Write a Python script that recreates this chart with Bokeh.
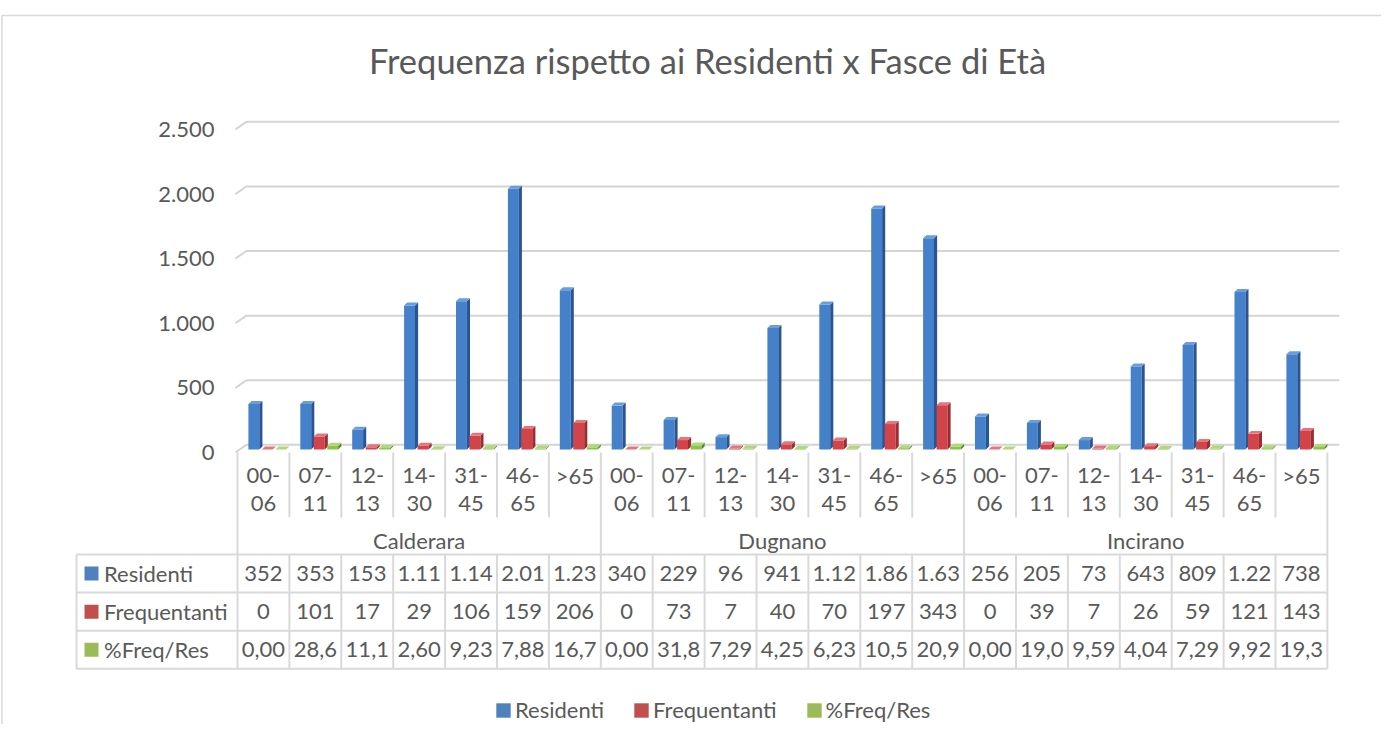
from bokeh.plotting import figure
from bokeh.models import Range1d, ColumnDataSource, Legend, LegendItem
from bokeh.core.properties import value
from bokeh.embed import file_html
from bokeh.resources import INLINE

# ---------------- data ----------------
title = "Frequenza rispetto ai Residenti x Fasce di Età"
towns = ["Calderara", "Dugnano", "Incirano"]
ages = ["00-06", "07-11", "12-13", "14-30", "31-45", "46-65", ">65"]
series = ["Residenti", "Frequentanti", "%Freq/Res"]
residenti = [352, 353, 153, 1115, 1148, 2018, 1233,
             340, 229, 96, 941, 1123, 1865, 1635,
             256, 205, 73, 643, 809, 1220, 738]
frequentanti = [0, 101, 17, 29, 106, 159, 206,
                0, 73, 7, 40, 70, 197, 343,
                0, 39, 7, 26, 59, 121, 143]
pct_freq_res = [0.00, 28.6, 11.1, 2.60, 9.23, 7.88, 16.7,
                0.00, 31.8, 7.29, 4.25, 6.23, 10.5, 20.9,
                0.00, 19.0, 9.59, 4.04, 7.29, 9.92, 19.3]
y_ticks = [0, 500, 1000, 1500, 2000, 2500]

# ---------------- style / layout ----------------
W, H = 1381, 724
SHIFT_Y = 8        # vertical offset of layout coordinates
X0_PX = 237.0      # canvas x of first category cell
CELL = 51.9        # px per category cell
Y0_PX = 441.0 + SHIFT_Y   # canvas y of value 0
SCALE = 0.1292     # px per unit
TXT = "#595959"
GRID = "#D4D4D4"
TLINE = "#D9D9D9"
FONT = "Lato"

front = ["#4580CB", "#D2434A", "#8CC34A"]
side = ["#2A5592", "#9B2C31", "#5E8A2E"]
topc = ["#6A9EDB", "#E4767B", "#B1D878"]
legend_col = ["#4F81BD", "#C0504D", "#9BBB59"]

p = figure(width=W, height=H, output_backend="svg", toolbar_location=None,
           x_range=Range1d(-X0_PX / CELL, (W - X0_PX) / CELL),
           y_range=Range1d((Y0_PX - H) / SCALE, Y0_PX / SCALE),
           x_axis_location=None, y_axis_location=None, min_border=0)
p.extra_x_ranges = {"px": Range1d(0, W)}
p.extra_y_ranges = {"px": Range1d(H - SHIFT_Y, -SHIFT_Y)}
p.grid.visible = False
p.outline_line_color = None
p.background_fill_color = "white"
p.border_fill_color = "white"

# outer chart border (left and top visible)
p.line(x=[1.5, 1.5, W], y=[H, 7, 7], x_range_name="px", y_range_name="px",
       line_color=TLINE, line_width=1.5)

# title
p.text(x=[707], y=[52], text=[title], x_range_name="px", y_range_name="px",
       text_font=value(FONT), text_font_size="34.5px", text_color=TXT,
       text_align="center", text_baseline="middle")

# 3D gridlines (back wall) with slanted left end
n = len(residenti)
FRONT_DY, BACK_DY = -23, 36
gx0, gx1, gx2 = -0.04, 0.17, 21.23
p.multi_line(xs=[[gx0, gx1, gx2] for _ in y_ticks],
             ys=[[t + FRONT_DY, t + BACK_DY, t + BACK_DY] for t in y_ticks],
             line_color=GRID, line_width=2)

# y tick labels
p.text(x=[214] * len(y_ticks), y=[t + FRONT_DY for t in y_ticks],
       text=[f"{t:,}".replace(",", ".") for t in y_ticks], x_range_name="px",
       text_font=value(FONT), text_font_size="22px", text_color=TXT,
       text_align="right", text_baseline="middle")

# bars (3D look: front face + side face + top face)
FW, DX, DY = 0.21, 0.06, 23
offsets = [0.21, 0.47, 0.73]
for k, vals in enumerate([residenti, frequentanti, pct_freq_res]):
    xl = [i + offsets[k] for i in range(n)]
    xr = [x + FW for x in xl]
    src = ColumnDataSource(dict(x=[(a + b) / 2 for a, b in zip(xl, xr)], top=vals))
    p.vbar(x="x", top="top", bottom=0, width=FW, source=src,
           fill_color=front[k], line_color=None)
    p.patches(xs=[[b, b + DX, b + DX, b] for b in xr],
              ys=[[0, DY, v + DY, v] for v in vals],
              fill_color=side[k], line_color=None)
    p.patches(xs=[[a, a + DX, b + DX, b] for a, b in zip(xl, xr)],
              ys=[[v, v + DY, v + DY, v] for v in vals],
              fill_color=topc[k], line_color=None)

# ---------------- category labels + data table ----------------
TABLE_TOP, ROW_H = 546.0, 38.1
AX_TOP, AGE_BOT = 444.0, 509.0
LEFT_EDGE = (76 - X0_PX) / CELL
n_rows = len(series)
table_bot = TABLE_TOP + ROW_H * n_rows

vx, vy = [], []
for i in range(n + 1):
    if i % len(ages) == 0:
        vx.append([i, i]); vy.append([AX_TOP, table_bot])
    else:
        vx.append([i, i]); vy.append([AX_TOP, AGE_BOT])
        vx.append([i, i]); vy.append([TABLE_TOP, table_bot])
vx.append([LEFT_EDGE, LEFT_EDGE]); vy.append([TABLE_TOP, table_bot])
for r in range(n_rows + 1):
    vx.append([LEFT_EDGE, n]); vy.append([TABLE_TOP + r * ROW_H] * 2)
p.multi_line(xs=vx, ys=vy, y_range_name="px", line_color=TLINE, line_width=2)

age_cells = [a for _ in towns for a in ages]
line1 = [a.split("-")[0] + "-" if "-" in a else a for a in age_cells]
line2 = [a.split("-")[1] if "-" in a else "" for a in age_cells]
xc = [i + 0.5 for i in range(n)]
common = dict(text_font=value(FONT), text_font_size="22px", text_color=TXT,
              text_align="center", text_baseline="middle", y_range_name="px")
p.text(x=xc, y=[467] * n, text=line1, **common)
p.text(x=xc, y=[495] * n, text=line2, **common)
p.text(x=[len(ages) * (j + 0.5) for j in range(len(towns))], y=[532] * len(towns),
       text=towns, **common)

row_text = [
    [f"{v:,}".replace(",", ".")[:4] for v in residenti],
    [f"{v}" for v in frequentanti],
    [f"{v:.2f}".replace(".", ",")[:4] for v in pct_freq_res],
]
for r in range(n_rows):
    yc = TABLE_TOP + ROW_H * (r + 0.5)
    p.text(x=xc, y=[yc] * n, text=row_text[r], **common)
    p.scatter(x=[91], y=[yc], marker="square", size=14, fill_color=legend_col[r],
              line_color=None, x_range_name="px", y_range_name="px")
    p.text(x=[103.5], y=[yc], text=[series[r]], x_range_name="px", y_range_name="px",
           text_font=value(FONT), text_font_size="22px", text_color=TXT,
           text_align="left", text_baseline="middle")

# ---------------- legend ----------------
items = []
for k, s in enumerate(series):
    # legend swatch renderer kept outside the visible area
    r = p.quad(left=[-100], right=[-99], top=[-9000], bottom=[-9001],
               fill_color=legend_col[k], line_color=None)
    items.append(LegendItem(label=s, renderers=[r]))
legend = Legend(items=items, orientation="horizontal", location=(494, 1),
                glyph_width=18, glyph_height=18, label_standoff=3, spacing=28,
                padding=0, margin=0, border_line_color=None, background_fill_alpha=0,
                label_text_font=FONT, label_text_font_size="22px", label_text_color=TXT)
p.add_layout(legend)

open("out.html", "w").write(file_html(p, INLINE))
